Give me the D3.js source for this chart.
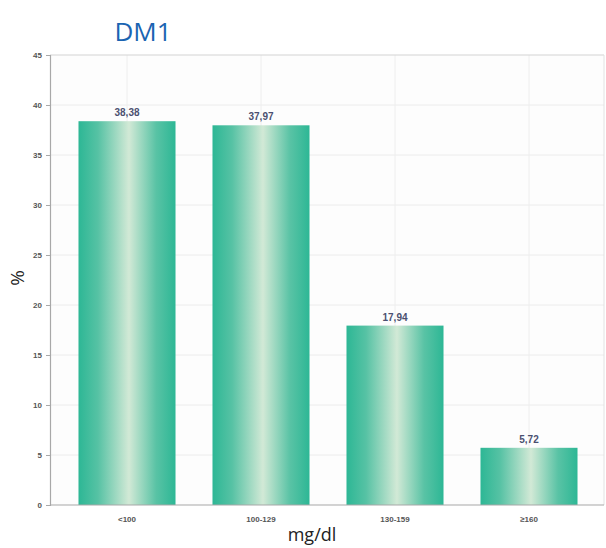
<!DOCTYPE html>
<html>
<head>
<meta charset="utf-8">
<script src="https://cdn.jsdelivr.net/npm/d3@7"></script>
<style>
  html, body { margin: 0; padding: 0; background: #ffffff; }
  svg { display: block; }
</style>
</head>
<body>
<svg id="chart" width="606" height="548"></svg>
<script>
// Glycaemia distribution, DM1
const categories = ["<100", "100-129", "130-159", "≥160"];
const values = [38.38, 37.97, 17.94, 5.72];
const valueLabels = ["38,38", "37,97", "17,94", "5,72"];
const yTicks = [0, 5, 10, 15, 20, 25, 30, 35, 40, 45];

const svg = d3.select("#chart");
const plot = { left: 50, right: 604, top: 55, bottom: 505 };

const x = d3.scaleBand()
  .domain(categories)
  .range([60, 596])
  .paddingInner(0.276)
  .paddingOuter(0.138);

const y = d3.scaleLinear()
  .domain([0, 45])
  .range([plot.bottom, plot.top]);

// bar gradient: teal edges, pale centre
const defs = svg.append("defs");
const grad = defs.append("linearGradient")
  .attr("id", "barGrad")
  .attr("x1", "0%").attr("x2", "100%").attr("y1", "0%").attr("y2", "0%");
grad.append("stop").attr("offset", "0%").attr("stop-color", "#2db795");
grad.append("stop").attr("offset", "20%").attr("stop-color", "#56c2a4");
grad.append("stop").attr("offset", "52%").attr("stop-color", "#d2e9d6");
grad.append("stop").attr("offset", "80%").attr("stop-color", "#59c3a5");
grad.append("stop").attr("offset", "100%").attr("stop-color", "#2db795");

// plot background
svg.append("rect")
  .attr("x", plot.left).attr("y", plot.top)
  .attr("width", plot.right - plot.left).attr("height", plot.bottom - plot.top)
  .attr("fill", "#fdfdfd");

// horizontal gridlines
svg.append("g")
  .selectAll("line")
  .data(yTicks.filter(d => d > 0 && d < 45))
  .join("line")
  .attr("x1", plot.left).attr("x2", plot.right)
  .attr("y1", d => y(d)).attr("y2", d => y(d))
  .attr("stroke", "#ececec").attr("stroke-width", 1);

// vertical gridlines at category centres
svg.append("g")
  .selectAll("line")
  .data(categories)
  .join("line")
  .attr("x1", d => x(d) + x.bandwidth() / 2).attr("x2", d => x(d) + x.bandwidth() / 2)
  .attr("y1", plot.top).attr("y2", plot.bottom)
  .attr("stroke", "#eeeeee").attr("stroke-width", 1);

// frame: top and right
svg.append("line")
  .attr("x1", plot.left).attr("x2", plot.right)
  .attr("y1", plot.top).attr("y2", plot.top)
  .attr("stroke", "#d4d4d4").attr("stroke-width", 1.2);
svg.append("line")
  .attr("x1", plot.right).attr("x2", plot.right)
  .attr("y1", plot.top).attr("y2", plot.bottom)
  .attr("stroke", "#e2e2e2").attr("stroke-width", 1);

// bars
svg.append("g")
  .selectAll("rect")
  .data(values)
  .join("rect")
  .attr("x", (d, i) => x(categories[i]))
  .attr("y", d => y(d))
  .attr("width", x.bandwidth())
  .attr("height", d => y(0) - y(d))
  .attr("fill", "url(#barGrad)");

// value labels
svg.append("g")
  .selectAll("text")
  .data(values)
  .join("text")
  .attr("x", (d, i) => x(categories[i]) + x.bandwidth() / 2)
  .attr("y", d => y(d) - 5)
  .attr("text-anchor", "middle")
  .attr("font-family", "Liberation Sans, Arial, sans-serif")
  .attr("font-weight", "bold")
  .attr("font-size", 10)
  .attr("fill", "#4b5070")
  .text((d, i) => valueLabels[i]);

// y axis
const yAxis = svg.append("g")
  .attr("transform", `translate(${plot.left},0)`)
  .call(d3.axisLeft(y).tickValues(yTicks).tickSize(4).tickPadding(4).tickFormat(d3.format("d")));
yAxis.select(".domain").attr("stroke", "#a8a8a8").attr("stroke-width", 1.2);
yAxis.selectAll(".tick line").attr("stroke", "#a8a8a8");
yAxis.selectAll(".tick text")
  .attr("font-family", "Liberation Sans, Arial, sans-serif")
  .attr("font-weight", "bold")
  .attr("font-size", 8)
  .attr("fill", "#555555");

// x axis
const xAxis = svg.append("g")
  .attr("transform", `translate(0,${plot.bottom})`)
  .call(d3.axisBottom(x).tickSize(0).tickPadding(11));
xAxis.select(".domain").attr("d", `M${plot.left},0H${plot.right}`).attr("stroke", "#a8a8a8").attr("stroke-width", 1.2);
xAxis.selectAll(".tick text")
  .attr("font-family", "Liberation Sans, Arial, sans-serif")
  .attr("font-weight", "bold")
  .attr("font-size", 8)
  .attr("fill", "#555555");

// axis titles
svg.append("text")
  .attr("x", 312).attr("y", 541)
  .attr("text-anchor", "middle")
  .attr("font-family", "Open Sans, Liberation Sans, sans-serif")
  .attr("font-size", 18)
  .attr("fill", "#222222")
  .text("mg/dl");

svg.append("text")
  .attr("transform", "translate(24,278) rotate(-90)")
  .attr("text-anchor", "middle")
  .attr("font-family", "Open Sans, Liberation Sans, sans-serif")
  .attr("font-size", 19)
  .attr("fill", "#222222")
  .text("%");

// title
svg.append("text")
  .attr("x", 143).attr("y", 41)
  .attr("text-anchor", "middle")
  .attr("font-family", "Open Sans, Liberation Sans, sans-serif")
  .attr("font-size", 26)
  .attr("fill", "#1a64b2")
  .text("DM1");
</script>
</body>
</html>
